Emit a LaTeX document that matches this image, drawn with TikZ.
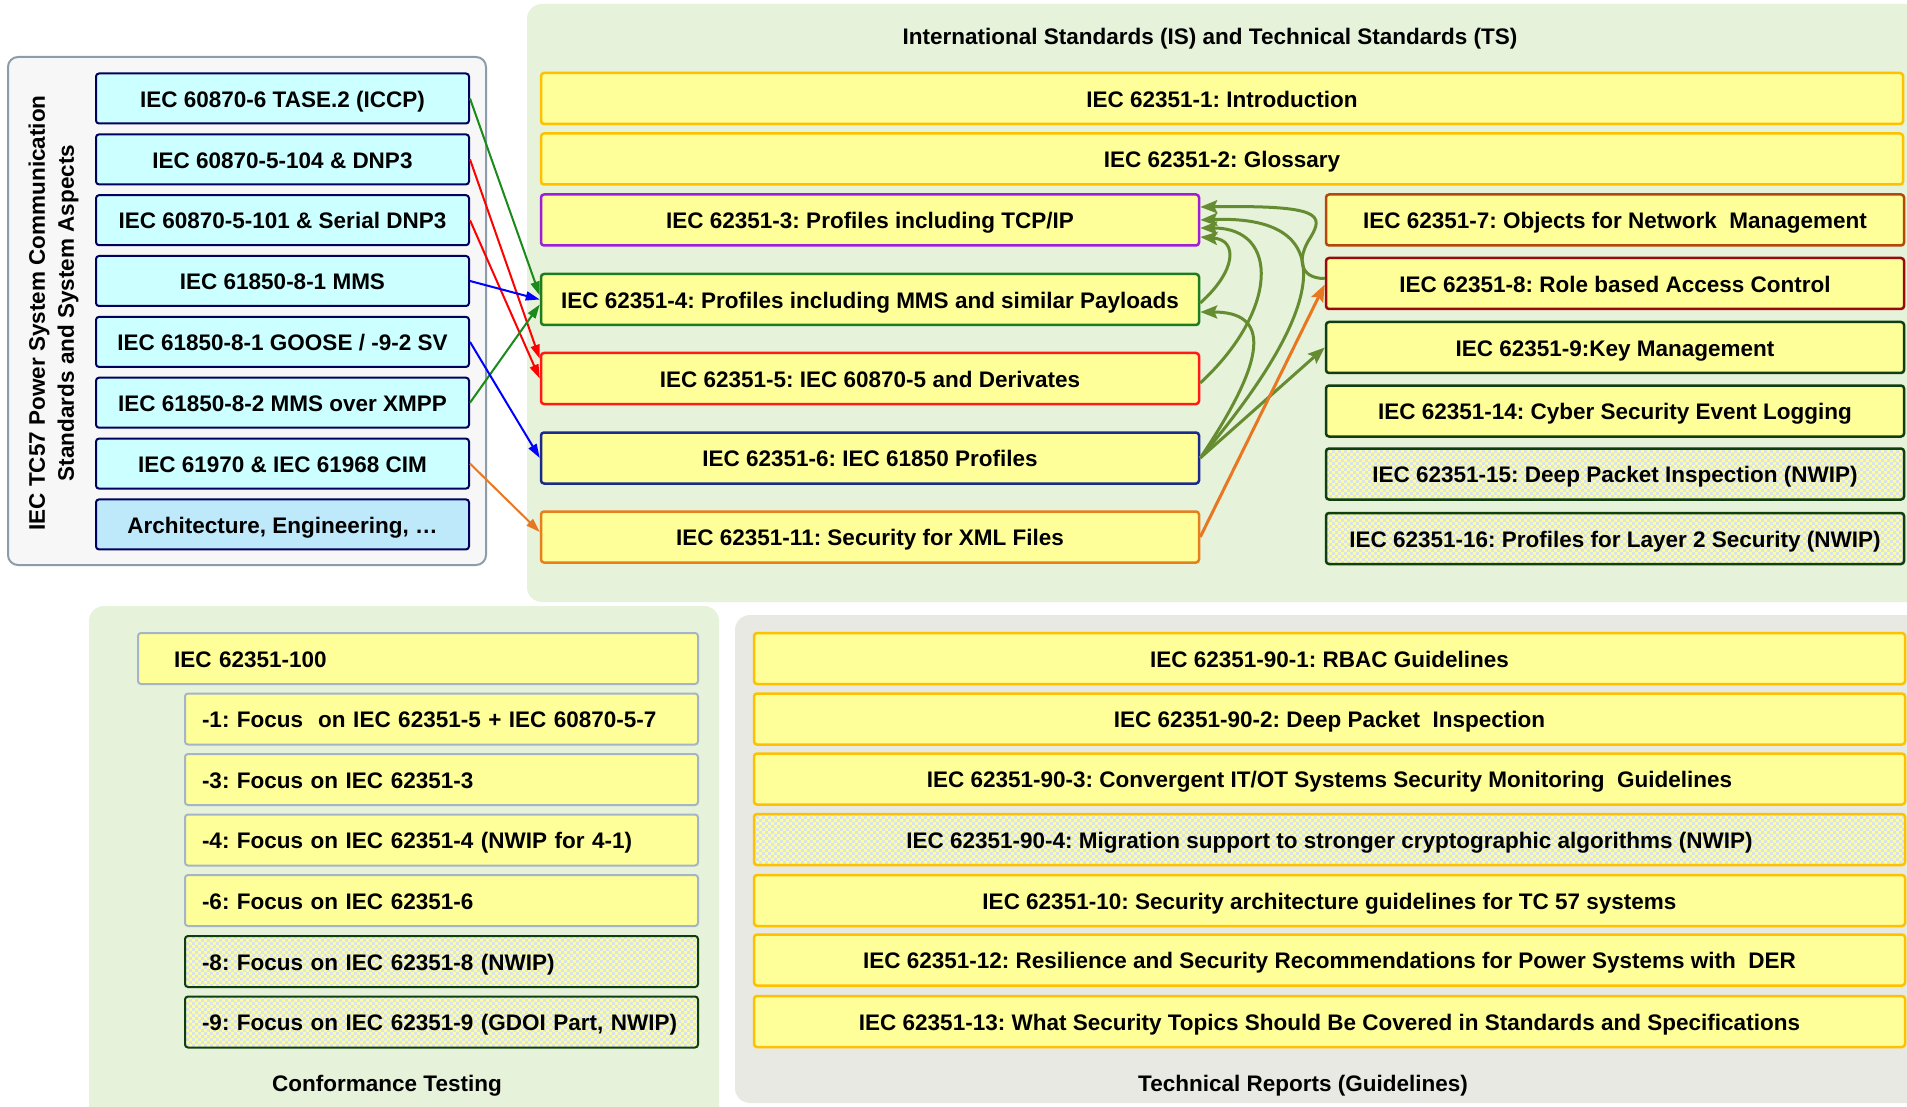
\documentclass[tikz,border=0pt]{standalone}
\usepackage{fontspec}
\setmainfont{Liberation Sans}
\usetikzlibrary{arrows.meta,calc,patterns}
\frenchspacing

% small checker used for the NWIP work items
\pgfdeclarepatternformonly{nwipcheck}{\pgfqpoint{-0.1pt}{-0.1pt}}{\pgfqpoint{6.1pt}{6.1pt}}{\pgfqpoint{6pt}{6pt}}{%
  \pgfpathrectangle{\pgfqpoint{0pt}{0pt}}{\pgfqpoint{3pt}{3pt}}%
  \pgfpathrectangle{\pgfqpoint{3pt}{3pt}}{\pgfqpoint{3pt}{3pt}}%
  \pgfusepath{fill}%
}

\definecolor{boxyellow}{HTML}{FFFF99}
\definecolor{istsgreen}{HTML}{E6F2DA}
\definecolor{trgray}{HTML}{E9E9E3}
\definecolor{tcpanel}{HTML}{F7F7F7}
\definecolor{tcedge}{HTML}{8C9CAB}
\definecolor{tccyan}{HTML}{CCFFFF}
\definecolor{tcblue}{HTML}{BDE9FB}
\definecolor{tcnavy}{HTML}{00005E}
\definecolor{goldedge}{HTML}{FFC000}
\definecolor{edgeviolet}{HTML}{9E1FD6}
\definecolor{edgegreen}{HTML}{1E7B1E}
\definecolor{edgered}{HTML}{FF1A1A}
\definecolor{edgenavy}{HTML}{1C2A8C}
\definecolor{edgeorange}{HTML}{E6801A}
\definecolor{edgebrown}{HTML}{B4480A}
\definecolor{edgedarkred}{HTML}{9B0A0A}
\definecolor{edgedkgreen}{HTML}{0F3F0F}
\definecolor{edgegrayblue}{HTML}{A5B4C8}
\definecolor{chkblue}{HTML}{DAE2EA}
\definecolor{olivec}{HTML}{668C32}
\definecolor{arrgreen}{HTML}{1A8A1A}
\definecolor{arrred}{HTML}{FF0000}
\definecolor{arrblue}{HTML}{0000FF}
\definecolor{arrorange}{HTML}{E87722}

\begin{document}
\begin{tikzpicture}[x=1pt,y=-1pt,
  txt/.style={font=\fontsize{22.5pt}{29pt}\selectfont\bfseries, text=black},
  line/.style={txt, text height=17.5pt, text depth=0pt},
  tcbox/.style={line, draw=tcnavy, fill=tccyan, line width=2pt, rounded corners=3pt,
    minimum width=373pt, minimum height=50pt, inner sep=0pt},
  ybox/.style={line, fill=boxyellow, line width=2.5pt, rounded corners=3pt,
    minimum height=51pt, inner sep=0pt},
  wide/.style={ybox, draw=goldedge, minimum width=1362pt},
  midcol/.style={ybox, minimum width=658pt},
  rcol/.style={ybox, minimum width=578pt},
  trbox/.style={ybox, draw=goldedge, minimum width=1151pt},
  ctmain/.style={ybox, draw=edgegrayblue, line width=2pt, text width=488pt, align=left, inner xsep=36pt},
  ctsub/.style={ybox, draw=edgegrayblue, line width=2pt, text width=479pt, align=left, inner xsep=17pt},
  nwip/.style={preaction={fill=boxyellow}, pattern=nwipcheck, pattern color=chkblue},
  inarrow/.style={line width=2pt, -{Triangle[length=14pt,width=9pt]}},
  olarrow/.style={line width=3pt, draw=olivec, -{Stealth[length=17pt,width=13pt,inset=3pt]}},
]
\clip (0,0) rectangle (1907,1107);
\fill[white] (0,0) rectangle (1907,1107);

% ---------- background panels ----------
\filldraw[fill=tcpanel, draw=tcedge, line width=2pt, rounded corners=10pt] (8,57) rectangle (486,565);
\fill[istsgreen, rounded corners=15pt] (527,4) rectangle (1940,602);
\fill[istsgreen, rounded corners=15pt] (89,606) rectangle (719,1140);
\fill[trgray, rounded corners=15pt] (735,615) rectangle (1940,1103);

% ---------- TC57 communication standards ----------
\node[txt, rotate=90, align=center] (tc57) at (53.5,313)
  {IEC TC57 Power System Communication\\Standards and System Aspects};
\node[tcbox] (l1) at (282.5,98.5)  {IEC 60870-6 TASE.2 (ICCP)};
\node[tcbox] (l2) at (282.5,159.4) {IEC 60870-5-104 \& DNP3};
\node[tcbox] (l3) at (282.5,220.2) {IEC 60870-5-101 \& Serial DNP3};
\node[tcbox] (l4) at (282.5,281)   {IEC 61850-8-1 MMS};
\node[tcbox] (l5) at (282.5,341.9) {IEC 61850-8-1 GOOSE / -9-2 SV};
\node[tcbox] (l6) at (282.5,402.7) {IEC 61850-8-2 MMS over XMPP};
\node[tcbox] (l7) at (282.5,463.6) {IEC 61970 \& IEC 61968 CIM};
\node[tcbox, fill=tcblue] (l8) at (282.5,524.4) {Architecture, Engineering, …};

% ---------- IS / TS ----------
\node[line] (istitle) at (1210,36) {International Standards (IS) and Technical Standards (TS)};
\node[wide] (p1) at (1222,98.5) {IEC 62351-1: Introduction};
\node[wide] (p2) at (1222,159)  {IEC 62351-2: Glossary};

\node[midcol, draw=edgeviolet] (p3)  at (870,220)   {IEC 62351-3: Profiles including TCP/IP};
\node[midcol, draw=edgegreen]  (p4)  at (870,299.5) {IEC 62351-4: Profiles including MMS and similar Payloads};
\node[midcol, draw=edgered]    (p5)  at (870,378.5) {IEC 62351-5: IEC 60870-5 and Derivates};
\node[midcol, draw=edgenavy]   (p6)  at (870,458)   {IEC 62351-6: IEC 61850 Profiles};
\node[midcol, draw=edgeorange] (p11) at (870,537)   {IEC 62351-11: Security for XML Files};

\node[rcol, draw=edgebrown]   (p7)  at (1615,220)   {IEC 62351-7: Objects for Network\ \ Management};
\node[rcol, draw=edgedarkred] (p8)  at (1615,283.5) {IEC 62351-8: Role based Access Control};
\node[rcol, draw=edgedkgreen] (p9)  at (1615,347.5) {IEC 62351-9:Key Management};
\node[rcol, draw=edgedkgreen] (p14) at (1615,411)   {IEC 62351-14: Cyber Security Event Logging};
\node[rcol, nwip, draw=edgedkgreen] (p15) at (1615,474)   {IEC 62351-15: Deep Packet Inspection (NWIP)};
\node[rcol, nwip, draw=edgedkgreen] (p16) at (1615,538.5) {IEC 62351-16: Profiles for Layer 2 Security (NWIP)};

% ---------- Conformance testing ----------
\node[ctmain] (c100) at (418,658.5) {IEC 62351-100};
\node[ctsub] (c1) at (441.5,719)  {-1: Focus\ \ on IEC 62351-5 + IEC 60870-5-7};
\node[ctsub] (c3) at (441.5,779.5){-3: Focus on IEC 62351-3};
\node[ctsub] (c4) at (441.5,840)  {-4: Focus on IEC 62351-4 (NWIP for 4-1)};
\node[ctsub] (c6) at (441.5,900.5){-6: Focus on IEC 62351-6};
\node[ctsub, nwip, draw=edgedkgreen] (c8) at (441.5,961.5) {-8: Focus on IEC 62351-8 (NWIP)};
\node[ctsub, nwip, draw=edgedkgreen] (c9) at (441.5,1022)  {-9: Focus on IEC 62351-9 (GDOI Part, NWIP)};
\node[line] (cttitle) at (387,1083) {Conformance Testing};

% ---------- Technical reports ----------
\node[trbox] (t1)  at (1329.5,658.5) {IEC 62351-90-1: RBAC Guidelines};
\node[trbox] (t2)  at (1329.5,719)   {IEC 62351-90-2: Deep Packet\ \ Inspection};
\node[trbox] (t3)  at (1329.5,779)   {IEC 62351-90-3: Convergent IT/OT Systems Security Monitoring\ \ Guidelines};
\node[trbox, nwip] (t4) at (1329.5,839.5) {IEC 62351-90-4: Migration support to stronger cryptographic algorithms (NWIP)};
\node[trbox] (t10) at (1329.5,900.5) {IEC 62351-10: Security architecture guidelines for TC 57 systems};
\node[trbox] (t12) at (1329.5,960)   {IEC 62351-12: Resilience and Security Recommendations for Power Systems with\ \ DER};
\node[trbox] (t13) at (1329.5,1021.5){IEC 62351-13: What Security Topics Should Be Covered in Standards and Specifications};
\node[line] (trtitle) at (1303,1083) {Technical Reports (Guidelines)};

% ---------- mapping of TC57 protocols to 62351 parts ----------
\draw[inarrow, arrgreen]  (l1.east) -- ([yshift=4pt]p4.west);
\draw[inarrow, arrred]    (l2.east) -- ([yshift=-7pt]p5.north west);
\draw[inarrow, arrred]    (l3.east) -- (p5.west);
\draw[inarrow, arrblue]   (l4.east) -- (p4.west);
\draw[inarrow, arrgreen]  (l6.east) -- ([yshift=-5pt]p4.west);
\draw[inarrow, arrblue]   (l5.east) -- (p6.west);
\draw[inarrow, arrorange] (l7.east) -- ([yshift=5pt]p11.west);

% ---------- dependencies between 62351 parts ----------
\coordinate (sbend) at ($(p8.west)+(-14,-46.5)$);
\draw[olarrow] ([yshift=5pt]p8.west) .. controls +(-26,0) and +(-14,21) .. (sbend)
  .. controls +(13,-22) and +(121,-2) .. ([yshift=13pt]p3.east);
\draw[olarrow] (p6.east) .. controls +(135,-160) and +(136,-5) .. (p3.east);
\draw[olarrow] ([yshift=-4.5pt]p5.east) .. controls +(78,-72) and +(80,0) .. ([yshift=-8pt]p3.east);
\draw[olarrow] ([yshift=-3.5pt]p4.east) .. controls +(36,-32) and +(38,3) .. ([yshift=-17pt]p3.east);
\draw[olarrow] (p6.east) .. controls +(68,-101) and +(70,0) .. ([yshift=-12.5pt]p4.east);
\draw[olarrow] (p6.east) -- (p9.west);
\draw[line width=3pt, draw=arrorange, -{Stealth[length=17pt,width=13pt,inset=3pt]}] (p11.east) -- ([yshift=-1pt]p8.west);
\end{tikzpicture}
\end{document}
